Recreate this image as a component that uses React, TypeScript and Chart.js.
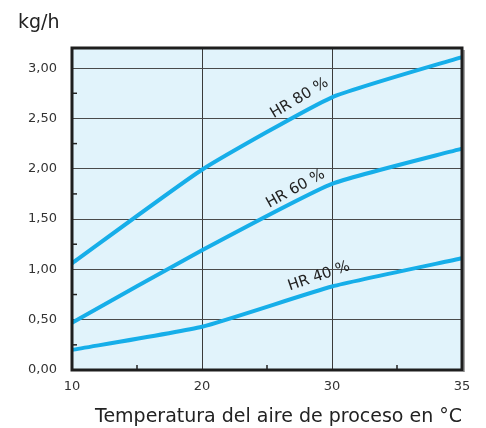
import React, { useEffect, useRef } from "react";
import { Chart, registerables } from "chart.js";
Chart.register(...registerables);

const categories = ["10", "20", "30", "35"];
const hr80 = [1.06, 1.99, 2.71, 3.11];
const hr60 = [0.47, 1.19, 1.85, 2.2];
const hr40 = [0.2, 0.43, 0.83, 1.11];
const seriesLabels = ["HR 80 %", "HR 60 %", "HR 40 %"];
// label anchor in (category index, value) and rotation in degrees
const labelAnchorX = [1.75, 1.72, 1.9];
const labelAnchorY = [2.7, 1.8, 0.93];
const labelAngle = [-31, -29, -19];

const FONT = "'DejaVu Sans', sans-serif";
const LINE = "#16aee9";

const decor = {
  id: "decor",
  beforeDraw(chart: any) {
    const { ctx, chartArea: a } = chart;
    ctx.save();
    ctx.fillStyle = "#e1f3fb";
    ctx.fillRect(a.left, a.top, a.right - a.left, a.bottom - a.top);
    ctx.restore();
  },
  afterDatasetsDraw(chart: any) {
    const { ctx, chartArea: a, scales } = chart;
    const xs = scales.x;
    const ys = scales.y;
    ctx.save();
    // minor ticks
    ctx.strokeStyle = "#222";
    ctx.lineWidth = 1.5;
    for (let i = 0; i < categories.length - 1; i++) {
      const px = xs.getPixelForDecimal((i + 0.5) / (categories.length - 1));
      ctx.beginPath();
      ctx.moveTo(px, a.bottom);
      ctx.lineTo(px, a.bottom - 5);
      ctx.stroke();
    }
    for (let v = 0.25; v < 3.2; v += 0.5) {
      const py = ys.getPixelForValue(v);
      ctx.beginPath();
      ctx.moveTo(a.left, py);
      ctx.lineTo(a.left + 5, py);
      ctx.stroke();
    }
    // border
    ctx.strokeStyle = "rgba(0,0,0,0.35)";
    ctx.lineWidth = 2;
    ctx.beginPath();
    ctx.moveTo(a.right + 2, a.top + 2);
    ctx.lineTo(a.right + 2, a.bottom + 2);
    ctx.stroke();
    ctx.strokeStyle = "#1e1e1e";
    ctx.lineWidth = 3;
    ctx.strokeRect(a.left, a.top, a.right - a.left, a.bottom - a.top);
    // series labels
    ctx.fillStyle = "#222";
    ctx.font = `15px ${FONT}`;
    ctx.textAlign = "center";
    ctx.textBaseline = "middle";
    for (let i = 0; i < seriesLabels.length; i++) {
      const px = xs.getPixelForDecimal(labelAnchorX[i] / (categories.length - 1));
      const py = ys.getPixelForValue(labelAnchorY[i]);
      ctx.save();
      ctx.translate(px, py);
      ctx.rotate((labelAngle[i] * Math.PI) / 180);
      ctx.fillText(seriesLabels[i], 0, 0);
      ctx.restore();
    }
    // unit label
    ctx.font = `19px ${FONT}`;
    ctx.textAlign = "left";
    ctx.textBaseline = "alphabetic";
    ctx.fillText("kg/h", 18, 28);
    ctx.restore();
  },
};

export default function App() {
  const ref = useRef<HTMLCanvasElement>(null);
  useEffect(() => {
    if (!ref.current) return;
    const ds = (data: number[]) => ({
      data,
      borderColor: LINE,
      borderWidth: 4,
      pointRadius: 0,
      tension: 0.15,
      fill: false,
    });
    const chart = new Chart(ref.current, {
      type: "line",
      data: {
        labels: categories,
        datasets: [ds(hr80), ds(hr60), ds(hr40)],
      },
      plugins: [decor],
      options: {
        animation: false,
        responsive: false,
        maintainAspectRatio: false,
        layout: { padding: { top: 48, right: 24, left: 0, bottom: 0 } },
        plugins: { legend: { display: false }, tooltip: { enabled: false } },
        scales: {
          x: {
            type: "category",
            offset: false,
            grid: { color: "#3a3a3a", lineWidth: 1, drawTicks: false },
            border: { display: false },
            ticks: {
              color: "#333",
              font: { family: FONT, size: 13 },
              padding: 9,
              maxRotation: 0,
            },
            title: {
              display: true,
              text: "Temperatura del aire de proceso en °C",
              align: "end",
              color: "#222",
              font: { family: FONT, size: 19 },
              padding: { top: 2, bottom: 0 },
            },
            afterFit: (s: any) => {
              s.height = 58;
            },
          },
          y: {
            min: 0,
            max: 3.2,
            grid: { color: "#4a4a4a", lineWidth: 1, drawTicks: false },
            border: { display: false },
            ticks: {
              stepSize: 0.5,
              color: "#333",
              font: { family: FONT, size: 13 },
              padding: 15,
              callback: (v: any) =>
                Number(v) % 0.5 === 0 && Number(v) <= 3 ? Number(v).toFixed(2).replace(".", ",") : "",
            },
            afterFit: (s: any) => {
              s.width = 72;
            },
          },
        },
      },
    });
    return () => chart.destroy();
  }, []);
  return (
    <div style={{ position: "absolute", left: 0, top: 0, width: 486, height: 428 }}>
      <canvas ref={ref} width={486} height={428} style={{ width: 486, height: 428 }} />
    </div>
  );
}
